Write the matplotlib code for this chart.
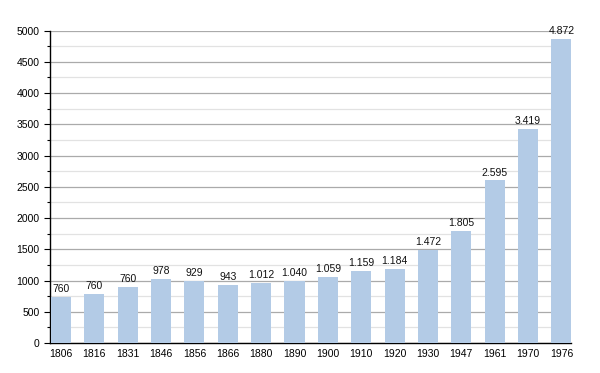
import matplotlib.pyplot as plt
from matplotlib.ticker import MultipleLocator

years = ["1806", "1816", "1831", "1846", "1856", "1866", "1880", "1890",
         "1900", "1910", "1920", "1930", "1947", "1961", "1970", "1976"]
# bar heights as drawn in the picture
heights = [742, 785, 897, 1025, 994, 934, 966, 994,
           1063, 1159, 1186, 1490, 1795, 2601, 3429, 4872]
# value labels printed above the bars
labels = ["760", "760", "760", "978", "929", "943", "1.012", "1.040",
          "1.059", "1.159", "1.184", "1.472", "1.805", "2.595", "3.419", "4.872"]

plt.rcParams["font.family"] = ["Liberation Sans", "DejaVu Sans"]

fig = plt.figure(figsize=(6, 3.73), dpi=100)
ax = fig.add_axes([0.0833, 0.0804, 0.869, 0.8376])

x = list(range(len(years)))
bars = ax.bar(x, heights, width=0.6, color="#b3cbe6", zorder=3)

for bar, lab in zip(bars, labels):
    ax.annotate(lab, (bar.get_x() + bar.get_width() / 2, bar.get_height()),
                xytext=(0, 2), textcoords="offset points",
                ha="center", va="bottom", fontsize=7.5, color="#111111", zorder=4)

ax.set_ylim(0, 5000)
ax.set_xlim(-0.33, 15.3)
ax.yaxis.set_major_locator(MultipleLocator(500))
ax.yaxis.set_minor_locator(MultipleLocator(250))
ax.grid(axis="y", which="major", color="#aaaaaa", linewidth=0.9, zorder=0)
ax.grid(axis="y", which="minor", color="#e2e2e2", linewidth=0.9, zorder=0)
ax.set_axisbelow(True)

ax.set_xticks(x)
ax.set_xticklabels(years)
ax.tick_params(axis="x", length=0, labelsize=7.5, pad=4)
ax.tick_params(axis="y", which="major", length=4, width=0.8, labelsize=7.5)
ax.tick_params(axis="y", which="minor", length=2.5, width=0.8)

for side in ["top", "right"]:
    ax.spines[side].set_visible(False)
ax.spines["left"].set_linewidth(1)
ax.spines["bottom"].set_linewidth(1)

plt.savefig("out.png", dpi=100)
plt.close()
